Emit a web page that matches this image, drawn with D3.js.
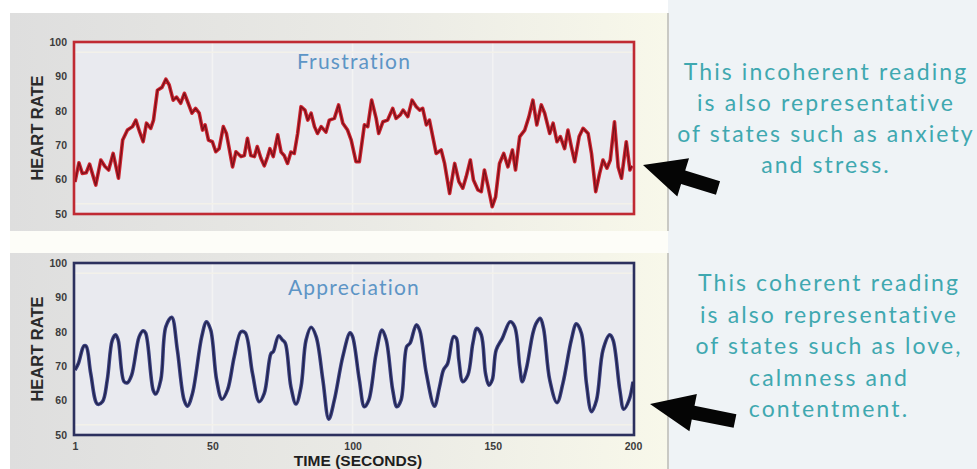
<!DOCTYPE html>
<html><head><meta charset="utf-8">
<script src="https://cdn.jsdelivr.net/npm/d3@7"></script>
<style>body{margin:0;background:#fff}svg{display:block}</style>
</head><body><svg id="c" width="977" height="469"></svg>
<script>
// ---------- data ----------
const frustrationTime = [1,2.4,3.6,5,6.2,8.4,10.2,11.7,13,14.6,16.5,18,19.7,21.5,22.7,24,25.3,26.5,28,29,30.4,32,33.4,34.6,36,37.2,38.7,40,41,42.7,44,45.3,46.5,47.4,48.6,50,51.2,52.4,53.9,55,57.2,58.4,60.2,61.4,62.5,63.7,65,66,67.3,68.5,69.7,70.5,71.7,73.3,74.5,75.6,76.8,78,79.2,80.4,81.6,83,84,85.2,86.4,87.5,88.8,90.5,91.7,93.5,95,96.5,98.2,99.5,101.2,102.4,104.2,105.4,106.8,108.4,109.3,110.8,112.5,114.3,115.5,117,118,119.7,121.2,122.7,123.9,125,126.3,127.4,129.8,131.6,132.8,134.6,136.4,137.9,139.3,140.5,142,143.1,144.7,145.9,147,148.3,149.8,151,152.4,153.9,155.4,157,158.1,159.6,161.4,162.9,164.3,165.7,167.3,168.5,170.3,171.5,172.9,174.1,175.6,176.8,178,179.2,180.8,182.2,184,185.2,186.7,188.1,189.3,190.7,191.9,193.4,194.7,195.9,197.6,198.9,199.6];
const frustrationRate = [59.3,64.9,61.8,62,64.5,58.4,65.7,63.8,62.8,67.6,60.4,71.5,74.4,75.4,77.3,74,71,76.4,74.9,77.3,86,86.8,89.2,87.5,83.1,84,82.2,85.1,83,79.3,80.7,79.3,74.4,75.9,71.5,71,68.1,69,75.4,73.4,63.7,68.1,66.7,67,72,67,66.7,69.6,66.2,64,66.7,69,66.7,73,68,67,64.7,68,67.6,73.4,81.2,80.2,77.3,79.3,75.4,73.4,75.4,73.8,77.3,77.8,81.7,76.4,74.4,71.5,65.2,65.2,75.9,75.4,83.1,77.8,73.4,76.8,77.3,80.7,77.8,78.8,80.2,78.3,83.1,81.2,80.2,80.7,75.9,77.3,67.6,68.6,64.7,56,64.7,59.4,57.5,60.8,65.7,59.9,57,56.5,62.8,58,52.1,55,64.7,67.6,63.7,68.6,62.8,72.5,74.4,78.3,83.1,75.9,81.7,79.3,73.4,76.4,71,72.5,69,74.4,69.6,65.2,72.5,74.9,73.4,67.6,56.5,61.8,65.7,63.3,65.7,76.8,63.7,60.4,71,62.8,64];
const appreciationTime = [1,2.2,4.2,5,6.6,9,10.8,12.5,14.3,15.5,16.4,18.5,19.7,21.2,23.9,25.3,26.2,28.9,29.8,31.6,33.4,35.5,37.5,39.9,41.1,42.9,46.2,47.9,49.4,51.5,53.4,55.4,57.8,60.2,61.7,64.3,66.7,68.5,70.9,71.7,73.6,75,76,78,79.8,81.6,83.4,85.2,87,89.4,91.5,93.5,96.5,99.1,100,102.4,104.2,105.8,108.4,110.5,112,114.3,115.8,117.3,119.3,120.5,122.7,123.9,126.3,129.2,131,132.4,133.9,136,137,137.9,139.3,141.1,142.9,144.3,145.9,147.4,148.6,149.8,151.2,153.4,156.2,157.8,159.6,160.5,162,164.3,165.5,166.9,168.1,170.3,172.9,175,178,179.8,181.6,183.4,185.2,187,189.3,191.7,192.9,195.3,196.7,198.6,200];
const appreciationRate = [68.9,70.8,75.9,75.8,67.9,59,59.7,66,77.6,79.1,77.6,65.5,65.2,67.4,78.6,80.3,79.6,63,61.9,66,81.5,84.2,74.7,60.2,58.4,62.1,78.6,82.9,80.5,66,60.4,63.1,72.8,80,79.7,67.9,59.7,62.1,73.7,74.2,78.8,77.6,76.7,64,59,64,77.6,81.3,78.6,66,54.6,60.2,72.8,79.7,78.6,66,58.2,60.2,73.7,80.5,77.6,63.1,58.2,60.2,75.7,76.7,82,80.5,67.9,58.4,64,68.9,70.8,78.6,78.1,71.8,65.5,67.4,76.7,81,79.1,67.9,64.5,66,74.7,78.1,82.9,81.5,69.9,65.5,69.4,79.6,82.5,83.9,81,66,59.4,65,77.6,82.3,79.6,65,56.8,60.2,74.7,79.1,77.6,63.1,57.5,60.2,65.5];
const yTicks = [50, 60, 70, 80, 90, 100];
const xTicks = [1, 50, 100, 150, 200];
const chartTitles = ["Frustration", "Appreciation"];
const yAxisLabel = "HEART RATE";
const xAxisLabel = "TIME (SECONDS)";
const noteTop = ["This incoherent reading", "is also representative", "of states such as anxiety", "and stress."];
const noteBottom = ["This coherent reading", "is also representative", "of states such as love,", "calmness and", "contentment."];

// ---------- layout ----------
const svg = d3.select("#c");
const defs = svg.append("defs");
const g1 = defs.append("linearGradient").attr("id","panelGrad").attr("x1","0").attr("x2","1").attr("y1","0").attr("y2","0");
g1.append("stop").attr("offset","0%").attr("stop-color","#dedede");
g1.append("stop").attr("offset","55%").attr("stop-color","#eaeae5");
g1.append("stop").attr("offset","100%").attr("stop-color","#f8f8ea");

svg.append("rect").attr("x",0).attr("y",0).attr("width",977).attr("height",469).attr("fill","#ffffff");
svg.append("rect").attr("x",668).attr("y",0).attr("width",309).attr("height",469).attr("fill","#eff3f6");
svg.append("rect").attr("x",10).attr("y",231).attr("width",658).attr("height",22).attr("fill","#fdfdf8");

const x = d3.scaleLinear().domain([1, 200]).range([75, 633]);
const sansBold = "Liberation Sans, Arial, sans-serif";

const panels = [
  {y0:13, y1:231, top:42, bottom:214, time:frustrationTime, rate:frustrationRate, color:"#cc2530", core:"#7a1019", frame:"#c02a33", title:chartTitles[0], titleY:69, xAxis:false},
  {y0:253, y1:469, top:263, bottom:435, time:appreciationTime, rate:appreciationRate, color:"#3c4180", core:"#1f2249", frame:"#2c305e", title:chartTitles[1], titleY:295, xAxis:true}
];

panels.forEach((p, i) => {
  svg.append("rect").attr("x",10).attr("y",p.y0).attr("width",658).attr("height",p.y1-p.y0).attr("fill","url(#panelGrad)");
  svg.append("line").attr("x1",668).attr("x2",668).attr("y1",p.y0).attr("y2",p.y1).attr("stroke","#c9c9c4").attr("stroke-width",2);
  const y = d3.scaleLinear().domain([50, 100]).range([p.bottom, p.top]);
  svg.append("rect").attr("x",x(1)).attr("y",p.top).attr("width",x(200)-x(1)).attr("height",p.bottom-p.top).attr("fill","#e9eaef");
  svg.append("g").selectAll("line").data([50,100,150]).join("line")
    .attr("x1",d=>x(d)).attr("x2",d=>x(d)).attr("y1",p.top).attr("y2",p.bottom)
    .attr("stroke","#f3f3f3").attr("stroke-width",1.5);
  svg.append("g").selectAll("line").data([97,53]).join("line")
    .attr("x1",x(1)).attr("x2",x(200)).attr("y1",d=>y(d)).attr("y2",d=>y(d))
    .attr("stroke","#f3f1ea").attr("stroke-width",1.5);
  svg.append("text").attr("x",(x(1)+x(200))/2).attr("y",p.titleY).attr("text-anchor","middle")
    .attr("font-family","Lato, sans-serif").attr("font-size",21).attr("letter-spacing",1.2).attr("fill","#5d95c6").text(p.title);
  const pts = p.time.map((t,k)=>[t, p.rate[k]]);
  const line = d3.line().x(d=>x(d[0])).y(d=>y(d[1]));
  if (i === 1) line.curve(d3.curveCatmullRom.alpha(0.5));
  svg.append("path").datum(pts).attr("d",line).attr("fill","none").attr("stroke",p.color).attr("stroke-width",3.6).attr("stroke-linejoin","round");
  svg.append("path").datum(pts).attr("d",line).attr("fill","none").attr("stroke",p.core).attr("stroke-width",1.3).attr("stroke-linejoin","round");
  svg.append("rect").attr("x",x(1)-1).attr("y",p.top).attr("width",x(200)-x(1)+2).attr("height",p.bottom-p.top)
    .attr("fill","none").attr("stroke",p.frame).attr("stroke-width",2.6);
  const ya = svg.append("g").attr("transform",`translate(${x(1)-8},0)`)
    .call(d3.axisLeft(y).tickValues(yTicks).tickSize(0).tickPadding(0));
  ya.select(".domain").remove();
  ya.selectAll("text").attr("font-family",sansBold).attr("font-weight","bold").attr("font-size",10.5).attr("fill","#3c3c3c");
  svg.append("text").attr("transform",`translate(43,${(p.top+p.bottom)/2}) rotate(-90)`).attr("text-anchor","middle")
    .attr("font-family",sansBold).attr("font-weight","bold").attr("font-size",16.5).attr("fill","#2a2a2a").text(yAxisLabel);
  if (p.xAxis) {
    const xa = svg.append("g").attr("transform",`translate(0,${p.bottom+8})`)
      .call(d3.axisBottom(x).tickValues(xTicks).tickSize(0).tickPadding(0).tickFormat(d3.format("d")));
    xa.select(".domain").remove();
    xa.selectAll("text").attr("font-family",sansBold).attr("font-weight","bold").attr("font-size",10.5).attr("fill","#3c3c3c");
    svg.append("text").attr("x",358).attr("y",466).attr("text-anchor","middle")
      .attr("font-family",sansBold).attr("font-weight","bold").attr("font-size",15.5).attr("fill","#1e1e1e").text(xAxisLabel);
  }
});

function note(lines, cx, y0, dy) {
  svg.append("g").selectAll("text").data(lines).join("text")
    .attr("x",cx).attr("y",(d,k)=>y0+k*dy).attr("text-anchor","middle")
    .attr("font-family","Lato, sans-serif").attr("font-size",23).attr("letter-spacing",2.1).attr("fill","#3fa8b0").text(d=>d);
}
note(noteTop, 826, 80, 31);
note(noteBottom, 829, 291, 31.5);

function arrow(tip, tail, headLen, headW, shaftW) {
  const dx = tail[0]-tip[0], dy = tail[1]-tip[1];
  const L = Math.hypot(dx,dy), ux = dx/L, uy = dy/L, nx = -uy, ny = ux;
  const b = [tip[0]+ux*headLen, tip[1]+uy*headLen];
  const P = (pt,s)=>[pt[0]+nx*s, pt[1]+ny*s];
  const ptsA = [tip, P(b,headW/2), P(b,shaftW/2), P(tail,shaftW/2), P(tail,-shaftW/2), P(b,-shaftW/2), P(b,-headW/2)];
  svg.append("path").attr("d", d3.line()(ptsA)+"Z").attr("fill","#050505");
}
arrow([643,165],[718,188],42,40,14);
arrow([650,404],[735,421],44,38,14);
</script></body></html>
